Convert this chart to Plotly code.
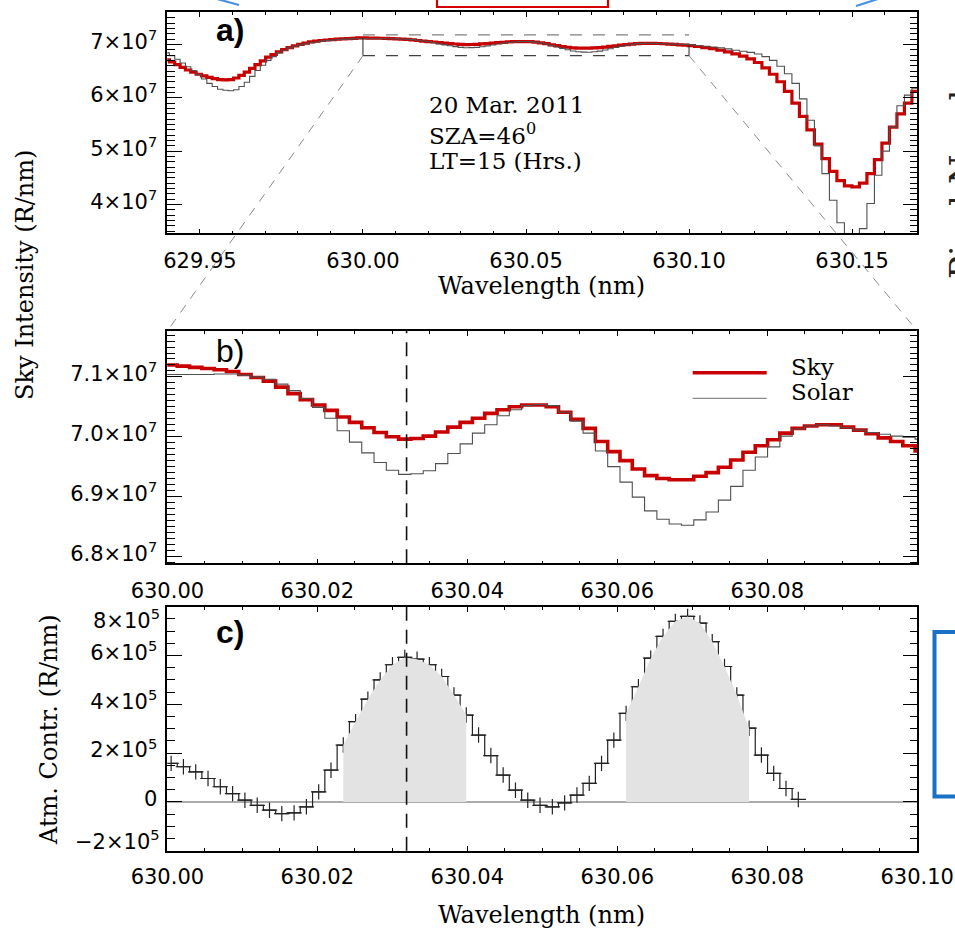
import plotly.graph_objects as go

W, H = 955, 931

# ---------------- data ----------------
# Panel a, short-wavelength wing (nm)
wl_left = [629.93982, 629.94146, 629.94310, 629.94474, 629.94638, 629.94802, 629.94966,
           629.95130, 629.95294, 629.95458, 629.95622, 629.95786, 629.95950, 629.96114,
           629.96278, 629.96442, 629.96606, 629.96770, 629.96934, 629.97098, 629.97262,
           629.97426, 629.97590, 629.97754, 629.97918, 629.98082, 629.98246, 629.98410,
           629.98574, 629.98738, 629.98902, 629.99066, 629.99230, 629.99394, 629.99558,
           629.99722]
sky_left = [6.71e7, 6.67e7, 6.62e7, 6.57e7, 6.52e7, 6.48e7, 6.44e7, 6.41e7, 6.38e7, 6.36e7,
            6.34e7, 6.335e7, 6.34e7, 6.37e7, 6.42e7, 6.48e7, 6.55e7, 6.62e7, 6.69e7, 6.76e7,
            6.81e7, 6.86e7, 6.90e7, 6.94e7, 6.97e7, 7.00e7, 7.025e7, 7.045e7, 7.06e7, 7.072e7,
            7.082e7, 7.09e7, 7.097e7, 7.103e7, 7.108e7, 7.113e7]
solar_left = [6.84e7, 6.79e7, 6.72e7, 6.65e7, 6.58e7, 6.51e7, 6.43e7, 6.35e7, 6.27e7, 6.21e7,
              6.16e7, 6.14e7, 6.13e7, 6.15e7, 6.21e7, 6.29e7, 6.40e7, 6.51e7, 6.61e7, 6.70e7,
              6.77e7, 6.84e7, 6.89e7, 6.935e7, 6.965e7, 6.99e7, 7.01e7, 7.03e7, 7.045e7, 7.06e7,
              7.07e7, 7.08e7, 7.087e7, 7.093e7, 7.098e7, 7.102e7]

# Central region (630.00-630.10 nm), shared by panels a, b and c
wl_mid = [629.99886, 630.00050, 630.00214, 630.00378, 630.00542, 630.00706, 630.00870,
          630.01034, 630.01198, 630.01362, 630.01526, 630.01690, 630.01854, 630.02018,
          630.02182, 630.02346, 630.02510, 630.02674, 630.02838, 630.03002, 630.03166,
          630.03330, 630.03494, 630.03658, 630.03822, 630.03986, 630.04150, 630.04314,
          630.04478, 630.04642, 630.04806, 630.04970, 630.05134, 630.05298, 630.05462,
          630.05626, 630.05790, 630.05954, 630.06118, 630.06282, 630.06446, 630.06610,
          630.06774, 630.06938, 630.07102, 630.07266, 630.07430, 630.07594, 630.07758,
          630.07922, 630.08086, 630.08250, 630.08414, 630.08578, 630.08742, 630.08906,
          630.09070, 630.09234, 630.09398, 630.09562, 630.09726, 630.09890, 630.10054]
sky_mid = [7.121e7, 7.120e7, 7.118e7, 7.116e7, 7.114e7, 7.112e7, 7.109e7, 7.104e7, 7.099e7,
           7.093e7, 7.083e7, 7.072e7, 7.062e7, 7.053e7, 7.044e7, 7.033e7, 7.024e7, 7.015e7,
           7.007e7, 7.000e7, 6.996e7, 6.997e7, 7.001e7, 7.008e7, 7.016e7, 7.024e7, 7.031e7,
           7.039e7, 7.045e7, 7.050e7, 7.053e7, 7.053e7, 7.050e7, 7.041e7, 7.029e7, 7.014e7,
           6.992e7, 6.975e7, 6.960e7, 6.946e7, 6.935e7, 6.930e7, 6.928e7, 6.928e7, 6.934e7,
           6.940e7, 6.949e7, 6.961e7, 6.974e7, 6.985e7, 6.995e7, 7.006e7, 7.014e7, 7.018e7,
           7.020e7, 7.020e7, 7.016e7, 7.011e7, 7.005e7, 6.998e7, 6.992e7, 6.985e7, 6.976e7]
solar_mid = [7.105e7, 7.104e7, 7.104e7, 7.104e7, 7.104e7, 7.105e7, 7.105e7, 7.103e7, 7.100e7,
             7.096e7, 7.088e7, 7.077e7, 7.064e7, 7.049e7, 7.031e7, 7.010e7, 6.991e7, 6.973e7,
             6.957e7, 6.944e7, 6.937e7, 6.938e7, 6.943e7, 6.955e7, 6.972e7, 6.988e7, 7.006e7,
             7.020e7, 7.035e7, 7.045e7, 7.052e7, 7.054e7, 7.052e7, 7.041e7, 7.026e7, 7.006e7,
             6.976e7, 6.950e7, 6.924e7, 6.899e7, 6.876e7, 6.862e7, 6.854e7, 6.852e7, 6.861e7,
             6.874e7, 6.894e7, 6.917e7, 6.944e7, 6.966e7, 6.983e7, 7.001e7, 7.013e7, 7.018e7,
             7.020e7, 7.018e7, 7.015e7, 7.011e7, 7.007e7, 7.004e7, 7.001e7, 6.999e7, 6.996e7]

# Panel a, long-wavelength wing (nm)
wl_right = [630.1028, 630.1051, 630.1074, 630.1097, 630.1120, 630.1143, 630.1166, 630.1189,
            630.1212, 630.1235, 630.1258, 630.1281, 630.1304, 630.1327, 630.1350, 630.1373,
            630.1396, 630.1419, 630.1442, 630.1465, 630.1488, 630.1511, 630.1534, 630.1557,
            630.1580, 630.1603, 630.1626, 630.1649, 630.1672, 630.1695, 630.1718]
sky_right = [6.96e7, 6.94e7, 6.92e7, 6.89e7, 6.86e7, 6.82e7, 6.78e7, 6.73e7, 6.66e7, 6.56e7,
             6.44e7, 6.30e7, 6.12e7, 5.90e7, 5.65e7, 5.40e7, 5.13e7, 4.86e7, 4.62e7, 4.45e7,
             4.35e7, 4.33e7, 4.40e7, 4.58e7, 4.84e7, 5.15e7, 5.45e7, 5.70e7, 5.90e7, 6.12e7, 6.30e7]
solar_right = [6.98e7, 6.965e7, 6.95e7, 6.935e7, 6.915e7, 6.89e7, 6.87e7, 6.85e7, 6.82e7, 6.77e7,
               6.70e7, 6.59e7, 6.45e7, 6.27e7, 5.98e7, 5.58e7, 5.10e7, 4.58e7, 4.08e7, 3.66e7,
               3.38e7, 3.30e7, 3.55e7, 4.02e7, 4.55e7, 5.00e7, 5.45e7, 5.85e7, 6.05e7, 6.18e7, 6.30e7]

# Panel c: atmospheric contribution on wl_mid[1:53]
atm_contr = [1.58e5, 1.44e5, 1.23e5, 0.96e5, 0.62e5, 0.34e5, 0.07e5, -0.14e5, -0.34e5, -0.48e5,
             -0.45e5, -0.20e5, 0.41e5, 1.30e5, 2.33e5, 3.29e5, 4.21e5, 5.00e5, 5.62e5, 5.92e5,
             5.85e5, 5.62e5, 5.14e5, 4.38e5, 3.56e5, 2.74e5, 1.90e5, 1.10e5, 0.48e5, 0.07e5,
             -0.14e5, -0.20e5, -0.04e5, 0.28e5, 0.76e5, 1.58e5, 2.53e5, 3.63e5, 4.72e5, 5.89e5,
             6.78e5, 7.40e5, 7.60e5, 7.33e5, 6.57e5, 5.55e5, 4.38e5, 3.02e5, 1.92e5, 1.17e5,
             0.55e5, 0.10e5]
shade_bands = [(630.02346, 630.03986), (630.06118, 630.07758)]
line_center = 630.0319

# axis ticks
xa_ticks = [629.95, 630.00, 630.05, 630.10, 630.15]
xb_ticks = [630.00, 630.02, 630.04, 630.06, 630.08]
xc_ticks = [630.00, 630.02, 630.04, 630.06, 630.08, 630.10]
ya_ticks = [4e7, 5e7, 6e7, 7e7]
ya_text = ["4×10<sup>7</sup>", "5×10<sup>7</sup>", "6×10<sup>7</sup>", "7×10<sup>7</sup>"]
yb_ticks = [6.8e7, 6.9e7, 7.0e7, 7.1e7]
yb_text = ["6.8×10<sup>7</sup>", "6.9×10<sup>7</sup>", "7.0×10<sup>7</sup>", "7.1×10<sup>7</sup>"]
yc_ticks = [-2e5, 0, 2e5, 4e5, 6e5, 8e5]
yc_text = ["−2×10<sup>5</sup>", "0", "2×10<sup>5</sup>", "4×10<sup>5</sup>",
           "6×10<sup>5</sup>", "8×10<sup>5</sup>"]

# ---------------- layout geometry ----------------
X0, X1 = 167.3, 917.3
A_Y = (12.0, 233.3)
B_Y = (331.0, 563.3)
C_Y = (606.7, 850.7)
xa_range = [629.94, 630.17]
xb_range = [629.99999, 630.10001]
ya_range = [3.462e7, 7.606e7]
yb_range = [6.7883e7, 7.1768e7]
yc_range = [-2e5, 8e5]


def dom_y(p):
    return [1 - p[1] / H, 1 - p[0] / H]


def px(x):
    return x / W


def py(y):
    return 1 - y / H


SKY = "#c80000"
SOLAR = "#505050"
TICKFONT = dict(family="DejaVu Sans", size=21, color="black")
SERIF = "DejaVu Serif"

fig = go.Figure()

# Panel a
fig.add_trace(go.Scatter(x=wl_left + wl_mid + wl_right, y=sky_left + sky_mid + sky_right,
                         mode="lines", line=dict(shape="hvh", color=SKY, width=3.2),
                         xaxis="x", yaxis="y", name="Sky"))
fig.add_trace(go.Scatter(x=wl_left + wl_mid + wl_right, y=solar_left + solar_mid + solar_right,
                         mode="lines", line=dict(shape="hvh", color=SOLAR, width=1.1),
                         xaxis="x", yaxis="y", name="Solar"))
# Panel b
fig.add_trace(go.Scatter(x=wl_mid, y=sky_mid, mode="lines",
                         line=dict(shape="hvh", color=SKY, width=3.6),
                         xaxis="x2", yaxis="y2", name="Sky"))
fig.add_trace(go.Scatter(x=wl_mid, y=solar_mid, mode="lines",
                         line=dict(shape="hvh", color=SOLAR, width=1.1),
                         xaxis="x2", yaxis="y2", name="Solar"))
# Panel c
wl_c = wl_mid[1:1 + len(atm_contr)]
fig.add_trace(go.Scatter(x=wl_c, y=atm_contr, mode="lines+markers",
                         line=dict(shape="hvh", color="#222222", width=1.2),
                         marker=dict(symbol="cross-thin", size=11,
                                     line=dict(color="#222222", width=1.2)),
                         xaxis="x3", yaxis="y3", name="Atm"))
for lo, hi in shade_bands:
    xs = [w for w in wl_c if lo - 1e-6 <= w <= hi + 1e-6]
    ys = [v for w, v in zip(wl_c, atm_contr) if lo - 1e-6 <= w <= hi + 1e-6]
    fig.add_trace(go.Scatter(x=[xs[0]] + xs + [xs[-1]], y=[0] + ys + [0],
                             mode="lines", fill="toself", fillcolor="#e3e3e3",
                             line=dict(width=0, color="#e3e3e3"),
                             xaxis="x3", yaxis="y3", hoverinfo="skip"))

common_axis = dict(showline=True, linecolor="black", linewidth=1.6, mirror="allticks",
                   ticks="inside", tickcolor="black", showgrid=False, zeroline=False,
                   tickfont=TICKFONT, automargin=False)

# the end labels of panel c are placed as annotations (as in the original, they sit inside the range)
yc_text_axis = ["" if v in (yc_range[0], yc_range[1]) else t for v, t in zip(yc_ticks, yc_text)]

fig.update_layout(
    width=W, height=H, margin=dict(l=0, r=0, t=0, b=0, autoexpand=False),
    paper_bgcolor="white", plot_bgcolor="white", showlegend=False,
    xaxis=dict(common_axis, domain=[px(X0), px(X1)], anchor="y", range=xa_range,
               tickmode="array", tickvals=xa_ticks,
               ticktext=[f"{v:.2f}" for v in xa_ticks], ticklen=5, tickwidth=1.2,
               ticklabelstandoff=8,
               minor=dict(dtick=0.01, tick0=629.95, ticklen=3, ticks="inside",
                          tickcolor="black", tickwidth=1)),
    yaxis=dict(common_axis, domain=dom_y(A_Y), anchor="x", range=ya_range,
               tickmode="array", tickvals=ya_ticks, ticktext=ya_text, ticklen=15,
               tickwidth=1.2, ticklabelstandoff=4, ticklabelshift=-3,
               minor=dict(dtick=1e6, tick0=0, ticklen=7.5, ticks="inside",
                          tickcolor="black", tickwidth=1)),
    xaxis2=dict(common_axis, domain=[px(X0), px(X1)], anchor="y2", range=xb_range,
                tickmode="array", tickvals=xb_ticks,
                ticktext=[f"{v:.2f}" for v in xb_ticks], ticklen=5, tickwidth=1.2,
                ticklabelstandoff=8,
                minor=dict(dtick=0.005, tick0=630.0, ticklen=3, ticks="inside",
                           tickcolor="black", tickwidth=1)),
    yaxis2=dict(common_axis, domain=dom_y(B_Y), anchor="x2", range=yb_range,
                tickmode="array", tickvals=yb_ticks, ticktext=yb_text, ticklen=15,
                tickwidth=1.2, ticklabelstandoff=4, ticklabelshift=-3,
                minor=dict(dtick=1e5, tick0=0, ticklen=7.5, ticks="inside",
                           tickcolor="black", tickwidth=1)),
    xaxis3=dict(common_axis, domain=[px(X0), px(X1)], anchor="y3", range=xb_range,
                tickmode="array", tickvals=xc_ticks,
                ticktext=[f"{v:.2f}" for v in xc_ticks], ticklen=5, tickwidth=1.2,
                ticklabelstandoff=6,
                minor=dict(dtick=0.005, tick0=630.0, ticklen=3, ticks="inside",
                           tickcolor="black", tickwidth=1)),
    yaxis3=dict(common_axis, domain=dom_y(C_Y), anchor="x3", range=yc_range,
                tickmode="array", tickvals=yc_ticks, ticktext=yc_text_axis, ticklen=15,
                tickwidth=1.2, ticklabelstandoff=4, ticklabelshift=-3,
                minor=dict(dtick=5e4, tick0=0, ticklen=7.5, ticks="inside",
                           tickcolor="black", tickwidth=1)),
)


def data_to_paper(xv, yv, xr, yr, ydom_px):
    xp = X0 + (xv - xr[0]) / (xr[1] - xr[0]) * (X1 - X0)
    yp = ydom_px[1] - (yv - yr[0]) / (yr[1] - yr[0]) * (ydom_px[1] - ydom_px[0])
    return px(xp), py(yp)


shapes = []
# zero line in c
shapes.append(dict(type="line", xref="x3 domain", yref="y3", x0=0, x1=1, y0=0, y1=0,
                   line=dict(color="#ababab", width=2), layer="below"))
# dashed vertical line at line centre (b and c)
for xr_, yr_ in (("x2", "y2 domain"), ("x3", "y3 domain")):
    shapes.append(dict(type="line", xref=xr_, yref=yr_, x0=line_center, x1=line_center,
                       y0=0, y1=1, line=dict(color="#111111", width=1.6, dash="14px,9px"),
                       layer="above"))
# zoom box in a
box_x = [xb_ticks[0], xc_ticks[-1]]
shapes.append(dict(type="line", xref="x", yref="y", x0=box_x[0], x1=box_x[1],
                   y0=yb_range[1], y1=yb_range[1],
                   line=dict(color="#808080", width=1.2, dash="12px,11px")))
shapes.append(dict(type="line", xref="x", yref="y", x0=box_x[0], x1=box_x[1],
                   y0=yb_range[0], y1=yb_range[0],
                   line=dict(color="#404040", width=1.2, dash="12px,11px")))
shapes.append(dict(type="line", xref="x", yref="y", x0=box_x[0], x1=box_x[0],
                   y0=yb_range[0], y1=sky_mid[1], line=dict(color="#222222", width=1)))
shapes.append(dict(type="line", xref="x", yref="y", x0=box_x[1], x1=box_x[1],
                   y0=yb_range[0], y1=sky_mid[-1], line=dict(color="#222222", width=1)))
# connectors from box in a to panel b
for bx in box_x:
    xa_p, ya_p = data_to_paper(bx, yb_range[0], xa_range, ya_range, A_Y)
    xb_p, yb_p = data_to_paper(bx, yb_range[1], xb_range, yb_range, B_Y)
    shapes.append(dict(type="line", xref="paper", yref="paper", x0=xa_p, y0=ya_p,
                       x1=xb_p, y1=yb_p,
                       line=dict(color="#8a8a8a", width=1, dash="9px,8px")))
# legend lines in b
shapes.append(dict(type="line", xref="paper", yref="paper", x0=px(692.7), x1=px(766.7),
                   y0=py(372.7), y1=py(372.7), line=dict(color=SKY, width=3.6)))
shapes.append(dict(type="line", xref="paper", yref="paper", x0=px(692.7), x1=px(766.7),
                   y0=py(398.3), y1=py(398.3), line=dict(color="#8c8c8c", width=1.3)))
# decorations cut from the surrounding figure
shapes.append(dict(type="rect", xref="paper", yref="paper", x0=px(437), x1=px(608),
                   y0=py(7), y1=py(-20), line=dict(color="#d40000", width=2.2)))
shapes.append(dict(type="line", xref="paper", yref="paper", x0=px(217), y0=py(-1),
                   x1=px(239), y1=py(5), line=dict(color="#4a90e2", width=2.2)))
shapes.append(dict(type="line", xref="paper", yref="paper", x0=px(856), y0=py(6),
                   x1=px(878), y1=py(-1), line=dict(color="#4a90e2", width=2.2)))
shapes.append(dict(type="rect", xref="paper", yref="paper", x0=px(934.5), x1=px(1010),
                   y0=py(796.5), y1=py(632), line=dict(color="#1a72c6", width=4)))
fig.update_layout(shapes=shapes)

ann = []
TITLE = dict(family=SERIF, size=24, color="black")
TXT = dict(family=SERIF, size=23, color="black")
ann.append(dict(text="Wavelength (nm)", x=px(541), y=py(286), xref="paper", yref="paper",
                showarrow=False, font=TITLE, xanchor="center", yanchor="middle"))
ann.append(dict(text="Wavelength (nm)", x=px(541), y=py(915), xref="paper", yref="paper",
                showarrow=False, font=TITLE, xanchor="center", yanchor="middle"))
ann.append(dict(text="Sky Intensity (R/nm)", x=px(25), y=py(275), xref="paper", yref="paper",
                showarrow=False, font=TITLE, textangle=-90, xanchor="center", yanchor="middle"))
ann.append(dict(text="Atm. Contr. (R/nm)", x=px(49), y=py(730), xref="paper", yref="paper",
                showarrow=False, font=TITLE, textangle=-90, xanchor="center", yanchor="middle"))
ann.append(dict(text="Pixel Number", x=px(962), y=py(160), xref="paper", yref="paper",
                showarrow=False, font=dict(family=SERIF, size=34, color="#222222"),
                textangle=-90, xanchor="center", yanchor="middle"))
for t, yy in (("20 Mar. 2011", 105), ("SZA=46<sup>0</sup>", 134), ("LT=15 (Hrs.)", 161)):
    ann.append(dict(text=t, x=px(427), y=py(yy), xref="paper", yref="paper",
                    showarrow=False, font=TXT, xanchor="left", yanchor="middle"))
for t, yy in (("Sky", 367), ("Solar", 392)):
    ann.append(dict(text=t, x=px(789), y=py(yy), xref="paper", yref="paper",
                    showarrow=False, font=TXT, xanchor="left", yanchor="middle"))
# end labels of the panel c y axis
for v, yy in ((yc_range[1], 619), (yc_range[0], 840)):
    ann.append(dict(text=yc_text[yc_ticks.index(v)], x=px(162), y=py(yy), xref="paper",
                    yref="paper", showarrow=False, font=TICKFONT, xanchor="right",
                    yanchor="middle"))
PANEL = dict(family="Liberation Sans", size=32, color="black")
for t, yy in (("<b>a)</b>", 30), ("b)", 351), ("<b>c)</b>", 632)):
    ann.append(dict(text=t, x=px(214), y=py(yy), xref="paper", yref="paper",
                    showarrow=False, font=PANEL, xanchor="left", yanchor="middle"))
fig.update_layout(annotations=ann)

fig.write_html("out.html")
